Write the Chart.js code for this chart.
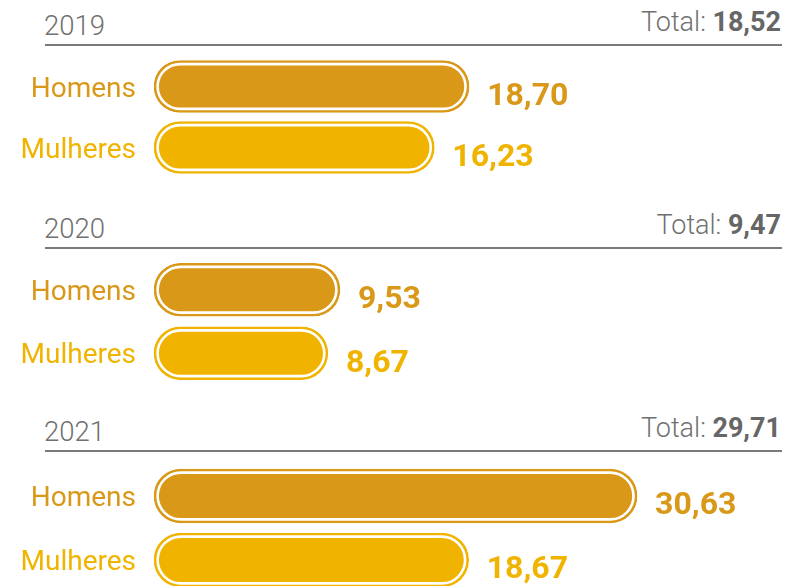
<!DOCTYPE html>
<html>
<head>
<meta charset="utf-8">
<script src="https://cdn.jsdelivr.net/npm/chart.js@4/dist/chart.umd.min.js"></script>
<style>
  html, body { margin:0; padding:0; background:#fff; }
  #wrap { position:relative; width:787px; height:586px; overflow:hidden; background:#fff; font-family: Roboto, "Noto Sans", sans-serif; }
  .year { position:absolute; left:44px; font-size:27.5px; line-height:27px; font-weight:300; color:#707070; white-space:nowrap; }
  .total { position:absolute; right:6px; font-size:27px; line-height:27px; font-weight:300; color:#707070; white-space:nowrap; }
  .total b { font-weight:700; color:#666; }
  .rule { position:absolute; left:45px; width:737px; height:1.5px; background:#7a7a7a; }
  .grp { position:absolute; left:0; }
</style>
</head>
<body>
<div id="wrap"></div>
<script>
// ---- data ----
const years = ['2019', '2020', '2021'];
const totals = [18.52, 9.47, 29.71];
const categories = ['Homens', 'Mulheres'];
const homens = [18.70, 9.53, 30.63];
const mulheres = [16.23, 8.67, 18.67];

// ---- styles / layout ----
const colors = ['#DA9819', '#F0B400'];
const ruleY = [45, 248, 451];
const yearBaseOff = 10;
const totalBaseOff = 13;
const chartTop = [56, 258, 464];
const chartH = [122, 127, 128];
const barThick = [52, 53, 54];
const axisMin = -3.68;
const axisMax = 40.92;

const fmt = v => v.toFixed(2).replace('.', ',');

const ringPlugin = {
  id: 'ringAndLabels',
  afterDatasetsDraw(chart) {
    const ctx = chart.ctx;
    const meta = chart.getDatasetMeta(0);
    const data = chart.data.datasets[0].data;
    meta.data.forEach((bar, i) => {
      const p = bar.getProps(['x', 'y', 'base', 'height'], true);
      const left = Math.min(p.x, p.base), right = Math.max(p.x, p.base);
      const inset = 3.6;
      const hh = p.height - 2 * inset;
      ctx.save();
      ctx.beginPath();
      ctx.roundRect(left + inset, p.y - p.height / 2 + inset, right - left - 2 * inset, hh, hh / 2);
      ctx.lineWidth = 2.6;
      ctx.strokeStyle = '#ffffff';
      ctx.stroke();
      ctx.font = 'bold 32px Roboto';
      ctx.fillStyle = colors[i];
      ctx.textAlign = 'left';
      ctx.textBaseline = 'alphabetic';
      ctx.fillText(fmt(data[i]), right + 18, p.y + 18.3);
      ctx.restore();
    });
  }
};

const wrap = document.getElementById('wrap');
years.forEach((yr, g) => {
  const yd = document.createElement('div');
  yd.className = 'year';
  yd.textContent = yr;
  yd.style.top = (ruleY[g] - yearBaseOff - 22.9) + 'px';
  wrap.appendChild(yd);

  const td = document.createElement('div');
  td.className = 'total';
  td.innerHTML = 'Total: <b>' + fmt(totals[g]) + '</b>';
  td.style.top = (ruleY[g] - totalBaseOff - 22.7) + 'px';
  wrap.appendChild(td);

  const rl = document.createElement('div');
  rl.className = 'rule';
  rl.style.top = (ruleY[g] - 0.75) + 'px';
  wrap.appendChild(rl);

  const gd = document.createElement('div');
  gd.className = 'grp';
  gd.style.top = chartTop[g] + 'px';
  const cv = document.createElement('canvas');
  cv.width = 787; cv.height = chartH[g];
  cv.style.width = '787px'; cv.style.height = chartH[g] + 'px';
  gd.appendChild(cv);
  wrap.appendChild(gd);

  new Chart(cv, {
    type: 'bar',
    data: {
      labels: categories,
      datasets: [{
        data: [homens[g], mulheres[g]],
        backgroundColor: colors,
        borderColor: colors,
        borderWidth: 2.3,
        borderRadius: 200,
        borderSkipped: false,
        base: axisMin,
        barThickness: barThick[g]
      }]
    },
    options: {
      indexAxis: 'y',
      responsive: false,
      animation: false,
      layout: { padding: { left: 0, right: 5, top: 0, bottom: 0 } },
      plugins: { legend: { display: false }, tooltip: { enabled: false } },
      scales: {
        x: { display: false, min: axisMin, max: axisMax },
        y: {
          afterFit(s) { s.width = 154; s.paddingTop = 0; s.paddingBottom = 0; },
          grid: { display: false, drawTicks: false },
          border: { display: false },
          ticks: {
            padding: 18,
            labelOffset: 3,
            font: { family: 'Roboto', size: 28, weight: '400' },
            color: ctx => colors[ctx.index]
          }
        }
      }
    },
    plugins: [ringPlugin]
  });
});
</script>
</body>
</html>
